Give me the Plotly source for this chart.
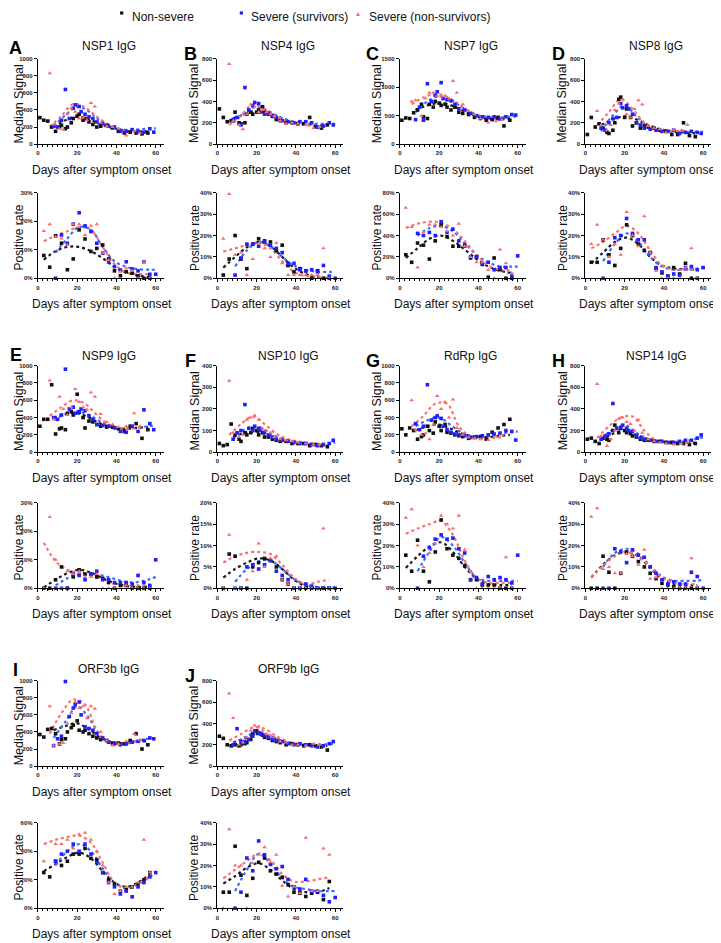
import plotly.graph_objects as go

# ---------------- shared sampling days ----------------
days_sig_ns = [1, 3, 5, 7, 9, 11, 12, 14, 15, 17, 18, 20, 21, 23, 24, 26, 28, 30, 32, 35, 38, 41, 44, 47, 50, 53, 56]
days_sig_sv = [8, 10, 12, 14, 16, 18, 19, 21, 22, 24, 26, 28, 30, 33, 36, 39, 42, 45, 48, 51, 54, 57, 59]
days_sig_nsv = [6, 8, 11, 13, 15, 17, 19, 21, 23, 25, 27, 29, 32, 35, 38, 41, 45, 49, 52]
fit_sig_ns_days = [8, 14, 20, 26, 32, 38, 44, 50, 56]
fit_sig_sv_days = [8, 14, 20, 26, 32, 38, 44, 50, 56, 60]
fit_sig_nsv_days = [6, 12, 18, 24, 30, 36, 42, 48, 52]
days_pos_ns = [3, 6, 9, 12, 15, 18, 21, 24, 27, 30, 33, 36, 39, 42, 45, 48, 51, 54, 57]
days_pos_sv = [9, 12, 15, 18, 21, 24, 27, 30, 33, 36, 39, 42, 45, 48, 51, 54, 57, 60]
days_pos_nsv = [3, 6, 9, 12, 15, 18, 21, 24, 27, 30, 33, 36, 39, 42, 45, 48, 51, 54, 57]
fit_pos_ns_days = [3, 9, 15, 21, 27, 33, 39, 45, 51, 57]
fit_pos_sv_days = [9, 15, 21, 27, 33, 39, 45, 51, 57, 60]
fit_pos_nsv_days = [3, 9, 15, 21, 27, 33, 39, 45, 51, 57]

# ---------------- A: NSP1 IgG ----------------
A_sig_ns = [310,280,270,200,150,200,220,180,200,250,300,330,350,280,300,260,230,200,210,220,190,150,130,140,130,120,130]
A_sig_sv = [210,200,280,640,300,420,460,440,380,350,320,300,260,240,210,200,150,150,170,150,140,180,140]
A_sig_nsv = [830,230,180,170,350,420,380,300,310,280,480,440,250,210,200,180,100,150,130]
A_fit_sig_ns = [200,280,320,290,230,190,160,150,150]
A_fit_sig_sv = [210,340,440,380,270,210,170,170,180,185]
A_fit_sig_nsv = [200,330,470,430,320,230,170,150,150]
A_pos_ns = [8,3.9,14.9,12.3,3,6.8,17,13.8,9.4,10.5,11.7,6.8,2.6,0.9,2.3,1.8,0.8,0,0]
A_pos_sv = [0,15.2,12.3,19,23,18.4,16.4,12.3,8.8,5.8,4.1,2.9,5.8,3.3,2.6,5.8,1.4,1.4]
A_pos_nsv = [16.6,19,14.6,14,11.7,19,19,15.2,18.4,19,8.8,6.4,0,2.3,3.5,2.6,0,5.8,0]
A_fit_pos_ns = [6.5,9.5,11,11,9.5,7,4,2,1,0.3]
A_fit_pos_sv = [9,14,18,17,11,6,4,3.2,3,3]
A_fit_pos_nsv = [13,15,16.5,18,17,11,5,2,1.5,1.5]

# ---------------- B: NSP4 IgG ----------------
B_sig_ns = [330,250,210,220,300,200,190,200,280,300,280,300,320,350,300,280,260,230,220,200,200,190,190,250,160,150,180]
B_sig_sv = [230,250,180,530,320,360,390,380,300,280,290,270,250,220,210,200,210,210,200,160,170,200,180]
B_sig_nsv = [750,220,180,140,280,370,350,300,320,300,280,260,220,190,200,190,180,150,160]
B_fit_sig_ns = [240,280,300,290,250,210,190,180,180]
B_fit_sig_sv = [200,290,350,310,250,215,200,190,190,190]
B_fit_sig_nsv = [180,270,370,330,260,210,190,170,165]
B_pos_ns = [1.5,9,20,9,4.5,16,18.5,17.5,17,13,15.5,6,3,4.5,3.5,0,3.5,0,0]
B_pos_sv = [1.5,9.5,16,16,15,17,15.5,14,12,7,7,4,3.5,4,3,6,1,0]
B_pos_nsv = [18.5,39.5,11,12,1.5,9,16,14,10,16.5,7,1.5,1.5,1.5,1.5,1.5,1.5,14,0]
B_fit_pos_ns = [5,10,14.5,17,15,10,5,2,0.5,0]
B_fit_pos_sv = [5.5,13,17,15,10,6,4,3,3,3]
B_fit_pos_nsv = [12.5,14,15.5,16.5,14,8,3,1,0.5,0.3]

# ---------------- C: NSP7 IgG ----------------
C_sig_ns = [420,460,450,550,600,700,480,450,700,650,750,720,680,700,650,600,650,560,540,520,470,450,420,430,470,320,420]
C_sig_sv = [430,650,420,1060,750,860,920,1080,800,780,760,700,620,600,540,500,480,470,480,440,480,520,510]
C_sig_nsv = [750,770,500,800,900,900,850,830,850,800,1110,900,700,580,520,450,380,400,430]
C_fit_sig_ns = [600,680,720,680,590,500,450,440,440]
C_fit_sig_sv = [560,750,840,780,640,530,480,470,480,490]
C_fit_sig_nsv = [700,820,880,830,700,560,470,440,440]
C_pos_ns = [22,15,33,31,18,35,50,39,30,30,31,19,20,13,1,19,8,0,0]
C_pos_sv = [42,40,43,40,53,43,46,35,30,20,20,14,15,8,10,10,2,21]
C_pos_nsv = [66,48,10,43,50,50,48,44,40,51,30,20,15,15,8,0,27,14,5]
C_fit_pos_ns = [19,28,37,40,35,27,18,11,7,5]
C_fit_pos_sv = [40,47,49,44,33,22,15,11,11,11]
C_fit_pos_nsv = [47,51,53,52,46,35,22,12,8,7]

# ---------------- D: NSP8 IgG ----------------
D_sig_ns = [90,250,160,190,150,110,100,130,200,420,440,250,330,250,170,200,150,170,160,150,130,120,90,90,200,80,70]
D_sig_sv = [150,130,200,240,250,380,340,360,330,280,200,180,150,140,130,120,120,130,100,110,120,110,100]
D_sig_nsv = [310,180,130,180,320,380,420,280,250,330,410,370,170,150,140,110,130,130,180]
D_fit_sig_ns = [180,230,260,230,180,140,120,110,100]
D_fit_sig_sv = [120,270,360,260,170,130,120,115,115,115]
D_fit_sig_nsv = [180,300,420,330,200,140,125,125,130]
D_pos_ns = [7.5,7.5,18,11,6,14,25,20,16,13,12,4.5,2.5,1,5,2,7,0,0]
D_pos_sv = [0,7.5,19,20,28,21,18,18,12,5,3,1,2,1.5,5,5.5,4,5]
D_pos_nsv = [16,25,18,10,16,11,31,20,15,29,12,3.5,0,0,0,0,5,14,0]
D_fit_pos_ns = [7,12,17,19,16,10,6,4.5,4.2,4]
D_fit_pos_sv = [8,16,21,17,10,5.5,4,4,4.5,5]
D_fit_pos_nsv = [14,17,21,24.5,21,13,6,4,4,4]

# ---------------- E: NSP9 IgG ----------------
E_sig_ns = [300,380,380,780,210,270,280,260,450,470,430,670,460,400,280,360,350,320,300,290,290,270,240,300,330,160,260]
E_sig_sv = [400,380,430,960,500,520,450,470,500,480,420,380,320,310,300,280,240,230,300,240,490,330,260]
E_sig_nsv = [830,380,640,500,430,520,730,580,520,490,690,640,440,350,320,290,300,450,300]
E_fit_sig_ns = [400,440,450,400,330,290,270,280,290]
E_fit_sig_sv = [370,440,470,430,350,290,270,280,300,310]
E_fit_sig_nsv = [420,520,600,560,430,320,280,280,290]
E_pos_ns = [0,0,3,7.5,0,4,6.5,5,5,4,3.5,2,0,1,1,0,0,0,0]
E_pos_sv = [0,0,0,5,4.5,3,5,6,3,3,2,2,2,1.5,4.5,2,1,10]
E_pos_nsv = [0,25,10,0,6,5,6,4,4,5,0,0,0,0,1,0,0,0,0]
E_fit_pos_ns = [0.3,3,5.3,6.5,5.5,3.5,1.8,0.8,0.5,0.5]
E_fit_pos_sv = [1,3.5,5,5.2,4.5,3.3,2.2,2.2,3.2,4]
E_fit_pos_nsv = [16,9.5,6.5,5.5,4.5,3,1.5,1,1,1]

# ---------------- F: NSP10 IgG ----------------
F_sig_ns = [40,30,35,130,80,60,50,90,80,90,110,100,80,90,70,70,60,55,50,50,40,40,40,30,35,30,25]
F_sig_sv = [60,90,100,220,110,100,120,110,100,90,80,70,60,55,50,45,40,40,35,30,35,40,55]
F_sig_nsv = [330,90,70,80,150,160,170,150,110,100,90,70,60,55,50,45,40,35,35]
F_fit_sig_ns = [70,90,95,80,60,45,38,32,30]
F_fit_sig_sv = [60,105,120,90,65,50,42,38,40,45]
F_fit_sig_nsv = [80,130,165,130,85,60,48,40,38]
F_pos_ns = [0,8,7.5,0,0,5,6,7,6.5,5,2,1,0,0,0,0,0,0,0]
F_pos_sv = [0,0,5,5.5,4.5,5.5,6.5,4,3,2,0,0,1,0.5,0,0,0,0]
F_pos_nsv = [0,12.5,0,0,2,4,10.5,5,7,7.5,2,1,0,0,0,0,0,14,0]
F_fit_pos_ns = [2.5,4.5,6,7,6.5,4.5,2,0.5,0,0]
F_fit_pos_sv = [1.5,4.5,6.3,6.5,4.5,2.2,0.8,0.3,0.2,0.2]
F_fit_pos_nsv = [6,7.5,8.3,8.5,8,5.5,2.5,1,1.5,2]

# ---------------- G: RdRp IgG ----------------
G_sig_ns = [270,200,280,250,150,180,200,300,250,220,350,300,250,320,230,220,200,190,180,160,170,180,150,230,280,320,380]
G_sig_sv = [330,260,300,780,370,400,420,390,300,260,230,210,200,190,170,180,190,200,210,220,250,240,140]
G_sig_nsv = [600,260,200,220,150,320,650,500,580,400,610,280,200,170,160,150,140,180,200]
G_fit_sig_ns = [250,300,320,270,210,180,175,185,200]
G_fit_sig_sv = [300,370,400,310,220,180,185,210,230,240]
G_fit_sig_nsv = [300,420,560,560,300,180,160,165,175]
G_pos_ns = [15.5,8,22.5,8,3,17,32,18.5,15.5,14,10.5,4,4,1.5,1.5,1.5,0,0,0]
G_pos_sv = [0,15,19,23,25,23,23.5,18.5,16.5,4,5,2,5.5,4,5,4,2.5,15.5]
G_pos_nsv = [33,37,20,10,16.5,21,34,30,28,34,18,8,0,0,0,0,0,14.5,0]
G_fit_pos_ns = [9.5,15,19.5,21.5,17,10,4.5,2,1.5,1.5]
G_fit_pos_sv = [8,17,24,20,12,5,3.5,3.5,3.5,3.5]
G_fit_pos_nsv = [25.5,28,30,31.5,25,13,5,2.5,2.5,2.5]

# ---------------- H: NSP14 IgG ----------------
H_sig_ns = [120,130,100,80,130,120,110,200,250,180,220,200,180,170,150,140,120,110,110,100,100,90,90,80,80,70,80]
H_sig_sv = [120,150,170,450,220,230,250,220,200,190,150,130,120,110,100,100,90,90,100,110,110,130,160]
H_sig_nsv = [630,150,60,120,200,310,320,280,260,200,300,180,120,100,90,80,70,80,90]
H_fit_sig_ns = [110,170,200,160,120,100,90,85,85]
H_fit_sig_sv = [120,210,250,180,120,100,95,100,120,140]
H_fit_sig_nsv = [130,240,320,330,200,110,85,80,85]
H_pos_ns = [0,0,15,7.5,0,7,17,15,12.5,10,7,4.5,2.3,1.5,0.8,0,0,0,0]
H_pos_sv = [0,0,18.5,17,12,18,15.5,14.5,10,7,4,2,3,2,2,7.5,5.5,0]
H_pos_nsv = [33.5,37.5,9,10,7,7,16,15,11,18,4.5,5,0,0,0,0,0,14,0]
H_fit_pos_ns = [5,11,15.5,17,15,9.5,4.5,2.2,1.5,1.5]
H_fit_pos_sv = [10,16.5,18.5,16,10.5,5.5,3.5,3.5,3.5,4]
H_fit_pos_nsv = [5,10.5,15,17,15,10,5,2.5,2,2]

# ---------------- I: ORF3b IgG ----------------
I_sig_ns = [370,340,430,440,380,260,310,320,400,450,480,530,420,400,420,380,350,330,310,300,270,270,260,300,380,200,250]
I_sig_sv = [240,320,350,990,580,680,720,750,600,460,440,420,380,330,280,260,250,260,280,290,300,330,320]
I_sig_nsv = [700,240,260,270,500,620,750,680,700,560,700,670,400,300,240,260,290,380,310]
I_fit_sig_ns = [420,470,500,430,330,280,270,290,290]
I_fit_sig_sv = [330,520,700,560,350,270,260,290,320,330]
I_fit_sig_nsv = [380,620,780,720,420,280,260,290,300]
I_pos_ns = [25,22,33,30,33,38,38,42,35,34,25,20,17,12,13,15,17,20,25]
I_pos_sv = [33,38,40,45,40,45,38,32,25,18,15,10,12,8,15,18,22,25]
I_pos_nsv = [33,65,45,45,48,42,52,53,48,40,30,18,10,12,15,15,18,48,25]
I_fit_pos_ns = [26,31,36,39,35,26,18,15,18,24]
I_fit_pos_sv = [30,40,45,40,28,18,14,17,22,25]
I_fit_pos_nsv = [45,48,50,51,46,32,18,14,17,23]

# ---------------- J: ORF9b IgG ----------------
J_sig_ns = [280,260,200,190,200,190,200,210,220,250,300,330,310,290,270,260,240,230,220,200,210,200,190,200,190,180,150]
J_sig_sv = [200,350,230,230,250,280,330,310,300,290,270,250,240,230,210,200,210,200,190,180,190,210,230]
J_sig_nsv = [680,450,200,220,270,330,380,370,330,300,290,270,230,220,200,200,190,210,200]
J_fit_sig_ns = [220,260,300,280,240,210,200,195,190]
J_fit_sig_sv = [210,270,320,290,240,210,200,200,205,210]
J_fit_sig_nsv = [240,300,360,350,280,230,210,205,205]
J_pos_ns = [7.5,7.5,29,15.5,6,14,21.5,23.5,17.5,16,14.5,11,7.5,7,5.5,7,7.5,4,12.5]
J_pos_sv = [0,7.5,23.5,17.5,31.5,25,20.5,18.5,19.5,13.5,10,9,13.5,8,8,6,3,5]
J_pos_nsv = [0,37,20,20,0,21,25,28.5,21.5,25,10.5,5.5,10,7,33,8,8,28,25]
J_fit_pos_ns = [11.5,15,19,21,18,13,9,7.5,7.5,9.5]
J_fit_pos_sv = [8,18,25.5,21,14,10,9,8,8,8]
J_fit_pos_nsv = [14,18,22,25.5,22.5,16,12.5,12.5,13.5,14.5]

panel_letters = ["A", "B", "C", "D", "E", "F", "G", "H", "I", "J"]
panel_titles = ["NSP1 IgG", "NSP4 IgG", "NSP7 IgG", "NSP8 IgG", "NSP9 IgG",
                "NSP10 IgG", "RdRp IgG", "NSP14 IgG", "ORF3b IgG", "ORF9b IgG"]
sig_max = [1000, 800, 1500, 800, 1000, 400, 1000, 800, 1000, 800]
sig_dtick = [200, 200, 500, 200, 200, 100, 200, 200, 200, 200]
pos_max = [30, 40, 80, 40, 30, 20, 40, 40, 60, 40]
pos_dtick = [10, 10, 20, 10, 10, 5, 10, 10, 20, 10]
group_names = ["Non-severe", "Severe (survivors)", "Severe (non-survivors)"]

# ---------------- styling / geometry ----------------
OFF = 8                      # page body margin
W, H = 721 - OFF, 943 - OFF  # figure size that fits the window
FONT = "Arial, Liberation Sans, sans-serif"
PT_COL = ["#111111", "#1f1fff", "#ff6a6a"]
FIT_COL = ["#1a1a1a", "#3a6cff", "#ff6f6f"]
SYMB = ["square", "square", "triangle-up"]
MSIZE = [3.6, 3.6, 4]
COL_X0 = [36, 216, 399, 585]
PLOT_W = 126
ROWS = [(56, 142, 191, 277), (365, 452, 503, 589), (682, 768, 825, 911)]
TITLE_Y = [43, 355, 670]


def px(x):
    return (x - OFF) / W


def py(y):
    return 1 - (y - OFF) / H


G = globals()
fig = go.Figure()
annotations = []
layout = {}


def ax_name(k):
    return ("x" if k == 1 else f"x{k}"), ("y" if k == 1 else f"y{k}")


def add_axes(k, x0, top, bottom, ymax, dtick, suffix):
    xn, yn = ax_name(k)
    layout["xaxis" if k == 1 else f"xaxis{k}"] = dict(
        domain=[px(x0), px(x0 + PLOT_W)], anchor=yn, range=[0, 64],
        tickvals=[0, 20, 40, 60], ticks="outside", ticklen=3, tickwidth=1,
        tickcolor="black", showline=True, linecolor="black", linewidth=1.2,
        showgrid=False, zeroline=False,
        tickfont=dict(size=6, family=FONT, color="#222", weight="bold"),
        minor=dict(tick0=0, dtick=2.5, ticks="outside", ticklen=2,
                   tickcolor="black", showgrid=False),
    )
    layout["yaxis" if k == 1 else f"yaxis{k}"] = dict(
        domain=[py(bottom), py(top)], anchor=xn, range=[0, ymax],
        dtick=dtick, tick0=0, ticks="outside", ticklen=3, tickwidth=1,
        tickcolor="black", showline=True, linecolor="black", linewidth=1.2,
        showgrid=False, zeroline=False, ticksuffix=suffix,
        tickfont=dict(size=6, family=FONT, color="#222", weight="bold"),
    )


for i, L in enumerate(panel_letters):
    r, c = divmod(i, 4)
    x0 = COL_X0[c]
    st, sb, bt, bb = ROWS[r]
    kt, kb = 2 * i + 1, 2 * i + 2
    add_axes(kt, x0, st, sb, sig_max[i], sig_dtick[i], "")
    add_axes(kb, x0, bt, bb, pos_max[i], pos_dtick[i], "%")

    for k, kind in ((kt, "sig"), (kb, "pos")):
        xn, yn = ax_name(k)
        for gi, grp in enumerate(["ns", "sv", "nsv"]):
            fx = G[f"fit_{kind}_{grp}_days"]
            fy = G[f"{L}_fit_{kind}_{grp}"]
            fig.add_trace(go.Scatter(
                x=fx, y=fy, mode="lines", xaxis=xn, yaxis=yn,
                line=dict(color=FIT_COL[gi], width=2.2, dash="dot",
                          shape="spline", smoothing=1.0),
                hoverinfo="skip", showlegend=False))
        for gi, grp in enumerate(["ns", "sv", "nsv"]):
            dx = G[f"days_{kind}_{grp}"]
            dy = G[f"{L}_{kind}_{grp}"]
            fig.add_trace(go.Scatter(
                x=dx, y=dy, mode="markers", xaxis=xn, yaxis=yn,
                name=group_names[gi], cliponaxis=False,
                marker=dict(symbol=SYMB[gi], size=MSIZE[gi], color=PT_COL[gi],
                            line=dict(width=0)),
                showlegend=False))

    # texts
    cx = x0 + PLOT_W / 2
    title_x = x0 - 23 if c > 0 else 17
    letter_x = x0 - 27 if c > 0 else 14
    letter_y = st - 5 if c > 0 else st - 11
    annotations.append(dict(x=px(cx + 8), y=py(TITLE_Y[r]), xref="paper", yref="paper",
                            text=panel_titles[i], showarrow=False,
                            font=dict(size=12, family=FONT, color="#111"),
                            xanchor="center", yanchor="middle"))
    annotations.append(dict(x=px(letter_x), y=py(letter_y), xref="paper", yref="paper",
                            text=f"<b>{L}</b>", showarrow=False,
                            font=dict(size=18, family=FONT, color="#000"),
                            xanchor="center", yanchor="middle"))
    for top, bot, lab, fs in ((st, sb, "Median Signal", 12.5), (bt, bb, "Positive rate", 12)):
        annotations.append(dict(x=px(title_x), y=py((top + bot) / 2 + 2), xref="paper", yref="paper",
                                text=lab, showarrow=False, textangle=-90,
                                font=dict(size=fs, family=FONT, color="#111"),
                                xanchor="center", yanchor="middle"))
        annotations.append(dict(x=px(cx + 1), y=py(bot + 26), xref="paper", yref="paper",
                                text="Days after symptom onset", showarrow=False,
                                font=dict(size=12, family=FONT, color="#111"),
                                xanchor="center", yanchor="middle"))

# ---------------- legend (top) ----------------
shapes = []
LEG_Y = 14
leg_items = [(120, 128), (240, 248), (357, 366)]
for gi, (mx, tx) in enumerate(leg_items):
    if gi < 2:
        shapes.append(dict(type="rect", xref="paper", yref="paper",
                           x0=px(mx - 1.6), x1=px(mx + 1.6), y0=py(LEG_Y - 4 + 1.6), y1=py(LEG_Y - 4 - 1.6),
                           fillcolor=PT_COL[gi], line=dict(width=0)))
    else:
        shapes.append(dict(type="path", xref="paper", yref="paper",
                           path=f"M {px(mx - 2)},{py(LEG_Y - 1)} L {px(mx + 2)},{py(LEG_Y - 1)} L {px(mx)},{py(LEG_Y - 5)} Z",
                           fillcolor=PT_COL[gi], line=dict(width=0)))
    annotations.append(dict(x=px(tx), y=py(LEG_Y), xref="paper", yref="paper",
                            text=group_names[gi], showarrow=False,
                            font=dict(size=12, family=FONT, color="#111"),
                            xanchor="left", yanchor="middle"))

fig.update_layout(
    width=W, height=H, margin=dict(l=0, r=0, t=0, b=0),
    paper_bgcolor="white", plot_bgcolor="white", showlegend=False,
    annotations=annotations, shapes=shapes, **layout)

fig.write_html("out.html")
